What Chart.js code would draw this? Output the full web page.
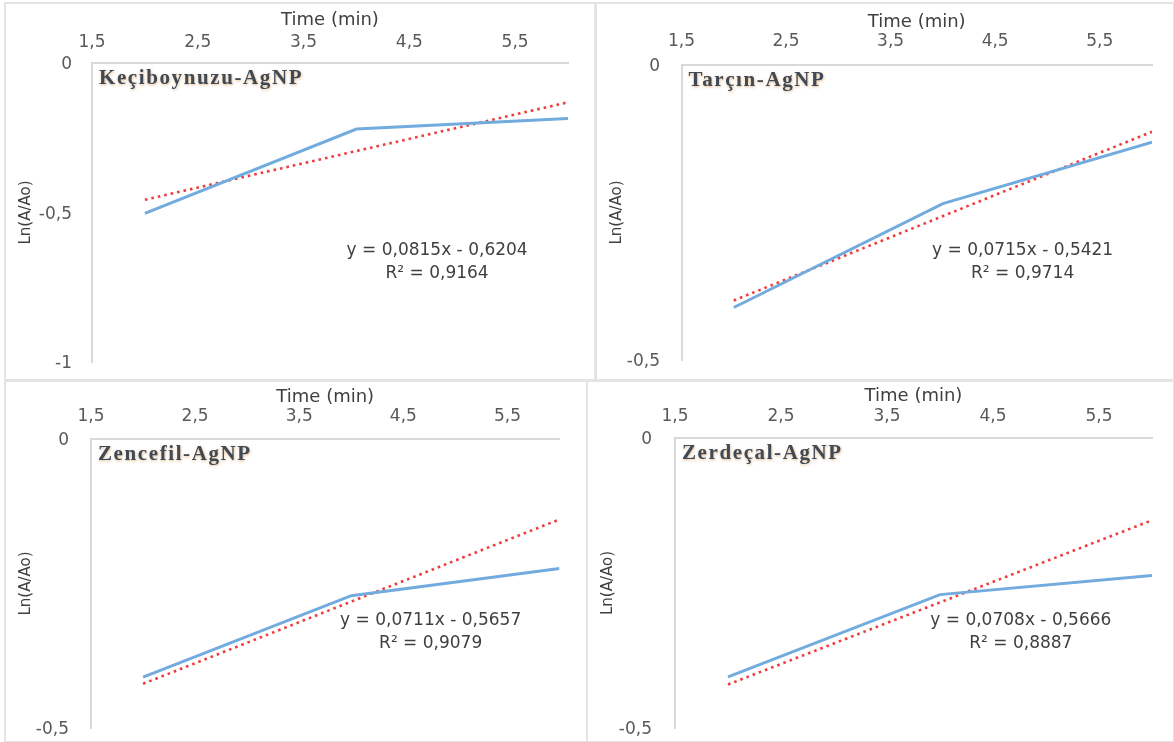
<!DOCTYPE html>
<html>
<head>
<meta charset="utf-8">
<script src="https://cdn.jsdelivr.net/npm/chart.js@4.4.1/dist/chart.umd.min.js"></script>
<style>
  html, body { margin: 0; padding: 0; background: #ffffff; }
  body { width: 1174px; height: 742px; position: relative; overflow: hidden; }
  canvas { position: absolute; }
  .frame { position: absolute; box-sizing: border-box; border: 2px solid #e4e4e4; pointer-events: none; }
</style>
</head>
<body>
<canvas id="c0"></canvas>
<canvas id="c1"></canvas>
<canvas id="c2"></canvas>
<canvas id="c3"></canvas>
<script>
// ---- data ----
const panelNames = ['Keçiboynuzu-AgNP', 'Tarçın-AgNP', 'Zencefil-AgNP', 'Zerdeçal-AgNP'];
const times = [2, 4, 6];
const keciboynuzu = [-0.503, -0.221, -0.186];
const tarcin = [-0.411, -0.235, -0.131];
const zencefil = [-0.412, -0.271, -0.224];
const zerdecal = [-0.412, -0.270, -0.237];
const slopes = [0.0815, 0.0715, 0.0711, 0.0708];
const intercepts = [-0.6204, -0.5421, -0.5657, -0.5666];
const r2Labels = ['0,9164', '0,9714', '0,9079', '0,8887'];
const xTicks = [1.5, 2.5, 3.5, 4.5, 5.5];
const yTicksDeep = [0, -0.5, -1];
const yTicksShallow = [0, -0.5];
const yMins = [-1, -0.5, -0.5, -0.5];
const xAxisTitle = 'Time (min)';
const yAxisTitle = 'Ln(A/Ao)';

const seriesList = [keciboynuzu, tarcin, zencefil, zerdecal];
const yTickList = [yTicksDeep, yTicksShallow, yTicksShallow, yTicksShallow];

// ---- layout (pixels) ----
const layouts = [
  {left: 4,   top: 2,   w: 591, h: 378, pl: 88,   pt: 61, pr: 27,   pb: 18, titleY: 18, tickY: 40.3, yTitleX: 22,   yGap: 20},
  {left: 595, top: 2,   w: 579, h: 378, pl: 86.5, pt: 63, pr: 22,   pb: 20, titleY: 20, tickY: 39.5, yTitleX: 22.5, yGap: 21.5},
  {left: 4,   top: 380, w: 583, h: 362, pl: 87,   pt: 59, pr: 27.5, pb: 14, titleY: 17, tickY: 36.5, yTitleX: 22.5, yGap: 22},
  {left: 586, top: 380, w: 588, h: 362, pl: 89,   pt: 58, pr: 22,   pb: 14, titleY: 16, tickY: 36.5, yTitleX: 21.8, yGap: 23}
];

const FONT = '"DejaVu Sans", Verdana, sans-serif';
const TICK_SIZE = 17;
const HALF_LH = TICK_SIZE * 1.2 / 2;
const TITLE_SIZE = 18;
const fmt = v => String(v).replace('.', ',');
const fmt4 = v => Math.abs(v).toFixed(4).replace('.', ',');

const annotPlugin = {
  id: 'annot',
  afterDatasetsDraw(chart, args, opts) {
    const {ctx, chartArea: a} = chart;
    ctx.save();
    ctx.font = 'bold 21px "Liberation Serif", "Times New Roman", serif';
    ctx.letterSpacing = '1.6px';
    ctx.textAlign = 'left';
    ctx.textBaseline = 'middle';
    ctx.shadowColor = 'rgba(214,150,80,0.7)';
    ctx.shadowBlur = 3;
    ctx.shadowOffsetX = 0.5;
    ctx.shadowOffsetY = 0.5;
    ctx.fillStyle = '#3e4a58';
    ctx.fillText(opts.name, a.left + 7, a.top + 16);
    ctx.restore();

    ctx.save();
    ctx.font = '17px ' + FONT;
    ctx.fillStyle = '#404040';
    ctx.textAlign = 'center';
    ctx.textBaseline = 'middle';
    const cx = a.left + 0.725 * (a.right - a.left);
    const cy = a.top + 0.629 * (a.bottom - a.top);
    ctx.fillText(opts.eq, cx, cy);
    ctx.fillText(opts.r2, cx, cy + 23);
    ctx.restore();
  }
};

for (let i = 0; i < 4; i++) {
  const L = layouts[i];
  const cv = document.getElementById('c' + i);
  cv.width = L.w; cv.height = L.h;
  cv.style.left = L.left + 'px'; cv.style.top = L.top + 'px';
  cv.style.width = L.w + 'px'; cv.style.height = L.h + 'px';

  const frame = document.createElement('div');
  frame.className = 'frame';
  frame.style.left = L.left + 'px'; frame.style.top = L.top + 'px';
  frame.style.width = (L.w + 1) + 'px'; frame.style.height = (L.h + 1) + 'px';
  document.body.appendChild(frame);

  const vals = seriesList[i];
  const m = slopes[i], b = intercepts[i];
  const measured = times.map((t, k) => ({x: t, y: vals[k]}));
  const trend = [times[0], times[times.length - 1]].map(t => ({x: t, y: m * t + b}));
  const eq = 'y = ' + fmt4(m) + 'x ' + (b < 0 ? '- ' : '+ ') + fmt4(b);
  const r2 = 'R² = ' + r2Labels[i];
  const yt = yTickList[i];

  new Chart(cv, {
    type: 'line',
    data: {
      datasets: [
        {data: measured, borderColor: '#72abde', borderWidth: 3, pointRadius: 0, tension: 0, fill: false},
        {data: trend, borderColor: '#ef3b3b', borderWidth: 2.6, borderDash: [2.6, 4], pointRadius: 0, tension: 0, fill: false}
      ]
    },
    options: {
      responsive: false,
      animation: false,
      events: [],
      layout: {padding: {top: 0, left: 0, right: L.pr, bottom: L.pb}},
      plugins: {
        legend: {display: false},
        tooltip: {enabled: false},
        annot: {name: panelNames[i], eq: eq, r2: r2}
      },
      scales: {
        x: {
          type: 'linear',
          position: 'top',
          min: 1.5,
          max: 6,
          afterBuildTicks: s => { s.ticks = xTicks.map(v => ({value: v})); },
          afterFit: s => { s.height = L.pt; },
          grid: {display: false, drawTicks: true, tickLength: L.pt - L.tickY - HALF_LH},
          border: {display: true, color: '#d9d9d9', width: 2},
          ticks: {
            autoSkip: false, maxRotation: 0,
            padding: 0,
            color: '#595959',
            font: {family: FONT, size: TICK_SIZE},
            callback: v => fmt(v)
          },
          title: {
            display: true, text: xAxisTitle, color: '#404040',
            font: {family: FONT, size: TITLE_SIZE},
            padding: {top: L.titleY - TITLE_SIZE * 0.6, bottom: 0}
          }
        },
        y: {
          type: 'linear',
          min: yMins[i],
          max: 0,
          afterBuildTicks: s => { s.ticks = yt.map(v => ({value: v})); },
          afterFit: s => { s.width = L.pl; },
          grid: {display: false, drawTicks: true, tickLength: L.yGap},
          border: {display: true, color: '#d9d9d9', width: 2},
          ticks: {
            autoSkip: false,
            padding: 0,
            labelOffset: 2,
            color: '#595959',
            font: {family: FONT, size: TICK_SIZE},
            callback: v => fmt(v)
          },
          title: {
            display: true, text: yAxisTitle, color: '#404040',
            font: {family: FONT, size: 15},
            padding: {top: L.yTitleX - 9, bottom: 0}
          }
        }
      }
    },
    plugins: [annotPlugin]
  });
}
</script>
</body>
</html>
